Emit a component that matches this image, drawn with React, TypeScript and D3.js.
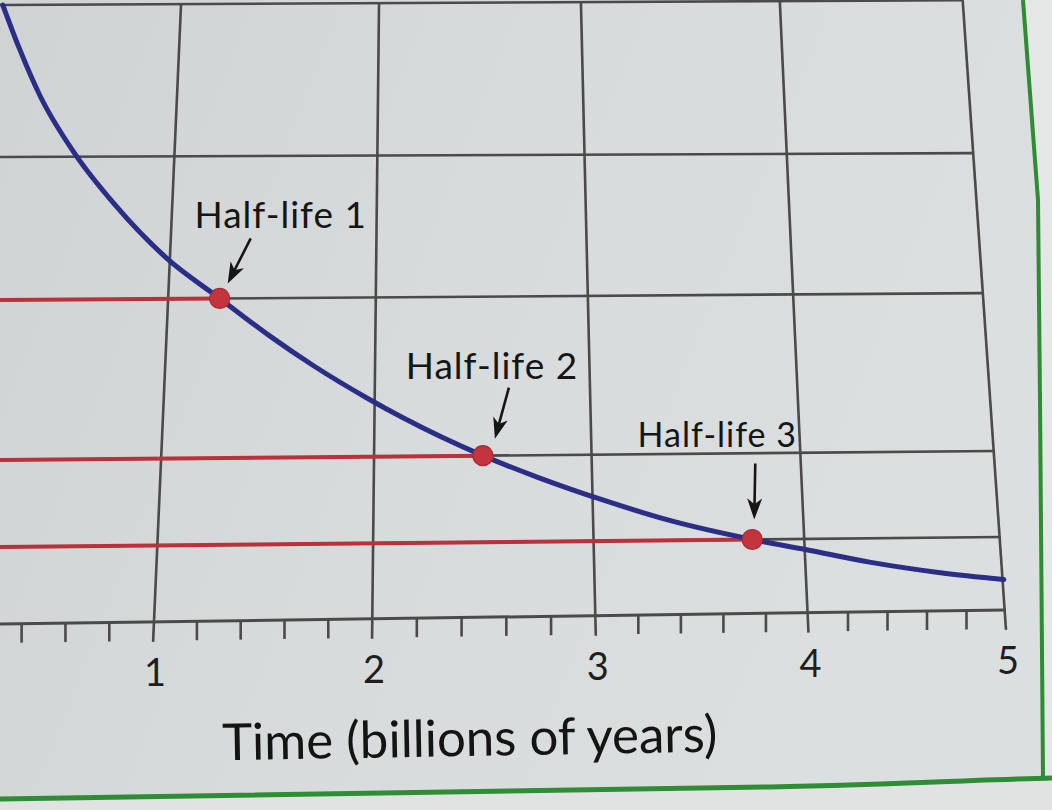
import React from "react";
import * as d3 from "d3";

// ---- data ----
const timeTicks = [1, 2, 3, 4, 5];
const minorTicks = [0.4, 0.6, 0.8, 1.2, 1.4, 1.6, 1.8, 2.2, 2.4, 2.6, 2.8, 3.2, 3.4, 3.6, 3.8, 4.2, 4.4, 4.6, 4.8];
const gridLevels = [0, 12.5, 25, 50, 75, 100];
const curveTime = [0.1, 0.2, 0.32, 0.51, 0.72, 0.99, 1.25, 1.49, 1.71, 1.97, 2.13, 2.5, 2.75, 3.05, 3.37, 3.75, 4.0, 4.33, 4.68, 5.0];
const curvePct = [100, 92.8, 85, 75.5, 66.6, 57, 50, 44.2, 39.3, 34.1, 31.1, 25, 21.8, 18.4, 15.3, 12.5, 10.7, 8.4, 6.5, 5.2];
const halfLifeTime = [1.25, 2.5, 3.75];
const halfLifePct = [50, 25, 12.5];
const halfLifeLabels = ["Half-life 1", "Half-life 2", "Half-life 3"];
const xTitle = "Time (billions of years)";

// ---- layout (photo perspective) ----
const W = 1052;
const H = 810;
const xBottom = d3.scaleLinear().domain([1, 2, 3, 4, 5]).range([153, 372, 596, 809, 1007]);
const xTop = d3.scaleLinear().domain([1, 2, 3, 4, 5]).range([181, 379, 581, 780, 963]);
const yLeft = d3.scaleLinear().domain([0, 12.5, 25, 50, 75, 100]).range([624, 547, 460, 300, 157, 5]);
const yRight = d3.scaleLinear().domain([0, 12.5, 25, 50, 75, 100]).range([610, 537, 451, 293, 153, 0]);

function project(t: number, p: number): [number, number] {
  let px = xBottom(t);
  let py = yLeft(p);
  for (let i = 0; i < 3; i++) {
    py = yLeft(p) + (yRight(p) - yLeft(p)) * (px / 1000);
    const f = (624 - py) / 619;
    px = xBottom(t) + (xTop(t) - xBottom(t)) * f;
  }
  return [px, py];
}

const annotations = [
  { lx: 61, ly: -70, size: 37, ax0: 31, ay0: -60, ax1: 8, ay1: -15 },
  { lx: 9, ly: -77, size: 37, ax0: 26, ay0: -68, ax1: 12, ay1: -17 },
  { lx: -35, ly: -92, size: 34, ax0: 3, ay0: -76, ax1: 2, ay1: -20 },
];

const GRID = "#4a4a4a";
const RED = "#bb313b";
const BLUE = "#2a2e86";

function arrowPath(x0: number, y0: number, x1: number, y1: number) {
  const dx = x1 - x0;
  const dy = y1 - y0;
  const len = Math.hypot(dx, dy);
  const ux = dx / len;
  const uy = dy / len;
  const nx = -uy;
  const ny = ux;
  const L = 21;
  const Wd = 7.5;
  const bx = x1 - ux * L;
  const by = y1 - uy * L;
  const notchx = x1 - ux * L * 0.72;
  const notchy = y1 - uy * L * 0.72;
  return {
    shaft: `M${x0},${y0}L${notchx},${notchy}`,
    head: `M${x1},${y1}L${bx + nx * Wd},${by + ny * Wd}L${notchx},${notchy}L${bx - nx * Wd},${by - ny * Wd}Z`,
  };
}

export default function App() {
  const curvePts = curveTime.map((t, i) => project(t, curvePct[i]));
  const line = d3.line<[number, number]>().x((d) => d[0]).y((d) => d[1]).curve(d3.curveBasis);
  // keep the curve passing through the half-life points: basis on densely-resampled monotone path
  const mono = d3.line<[number, number]>().x((d) => d[0]).y((d) => d[1]).curve(d3.curveMonotoneX);
  void line;

  return (
    <svg
      width={W}
      height={H}
      viewBox={`0 0 ${W} ${H}`}
      style={{ position: "absolute", left: 0, top: 0, display: "block" }}
    >
      <defs>
        <linearGradient id="paper" x1="0" y1="0" x2="1" y2="0.3">
          <stop offset="0" stopColor="#cfd3d3" />
          <stop offset="0.5" stopColor="#d7dbdb" />
          <stop offset="1" stopColor="#dcdfdf" />
        </linearGradient>
      </defs>
      <rect x={0} y={0} width={W} height={H} fill="url(#paper)" />
      {/* page edge areas */}
      <path d="M1023,0 L1038,200 L1040,400 L1043,778 L1052,778 L1052,0 Z" fill="#e4e7e6" />
      <path d="M0,799 C250,796 500,790 770,787 C900,784 1000,779 1052,778 L1052,810 L0,810 Z" fill="#e0e3e2" />
      <path d="M1023,0 L1038,200 L1040,400 L1043,778" fill="none" stroke="#2e8c35" strokeWidth={4} />
      <path d="M0,799 C250,796 500,790 770,787 C900,784 1000,779 1052,778" fill="none" stroke="#2f8d36" strokeWidth={5} />

      {/* horizontal grid lines */}
      {gridLevels.map((p) => {
        const a = project(0, p);
        const b = project(5, p);
        return <line key={"h" + p} x1={a[0]} y1={a[1]} x2={b[0]} y2={b[1]} stroke={GRID} strokeWidth={p === 0 ? 3 : 2.6} />;
      })}
      {/* vertical grid lines + major ticks */}
      {timeTicks.map((t) => {
        const a = project(t, 100);
        const b = project(t, 0);
        return <line key={"v" + t} x1={a[0]} y1={a[1]} x2={b[0]} y2={b[1] + 20} stroke={GRID} strokeWidth={2.6} />;
      })}
      {/* minor ticks */}
      {minorTicks.map((t) => {
        const b = project(t, 0);
        return <line key={"m" + t} x1={b[0]} y1={b[1]} x2={b[0]} y2={b[1] + 19} stroke={GRID} strokeWidth={2.6} />;
      })}
      {/* tick labels */}
      {timeTicks.map((t) => {
        const b = project(t, 0);
        return (
          <text key={"l" + t} x={b[0] + 2} y={b[1] + 64} textAnchor="middle" fontFamily="Lato, 'Open Sans', sans-serif" fontSize={38} fill="#1e1e1e">
            {t}
          </text>
        );
      })}
      <text
        x={470}
        y={756}
        textAnchor="middle"
        fontFamily="Lato, 'Open Sans', sans-serif"
        fontSize={51}
        fill="#141414"
        transform="rotate(-1, 470, 756)"
      >
        {xTitle}
      </text>

      {/* red half-life lines */}
      {halfLifeTime.map((t, i) => {
        const a = project(0, halfLifePct[i]);
        const b = project(t, halfLifePct[i]);
        return <line key={"r" + i} x1={a[0]} y1={a[1]} x2={b[0]} y2={b[1]} stroke={RED} strokeWidth={4} />;
      })}

      {/* decay curve */}
      <path d={mono(curvePts) || ""} fill="none" stroke={BLUE} strokeWidth={5} strokeLinecap="round" />

      {/* dots */}
      {halfLifeTime.map((t, i) => {
        const c = project(t, halfLifePct[i]);
        return <circle key={"d" + i} cx={c[0]} cy={c[1]} r={10} fill="#c4343d" stroke="#a82a33" strokeWidth={1.2} />;
      })}

      {/* labels + arrows */}
      {halfLifeTime.map((t, i) => {
        const c = project(t, halfLifePct[i]);
        const an = annotations[i];
        const ar = arrowPath(c[0] + an.ax0, c[1] + an.ay0, c[0] + an.ax1, c[1] + an.ay1);
        return (
          <g key={"a" + i}>
            <text
              x={c[0] + an.lx}
              y={c[1] + an.ly}
              textAnchor="middle"
              fontFamily="Lato, 'Open Sans', sans-serif"
              fontSize={an.size}
              letterSpacing={1}
              fill="#151515"
            >
              {halfLifeLabels[i]}
            </text>
            <path d={ar.shaft} stroke="#151515" strokeWidth={2.6} fill="none" />
            <path d={ar.head} fill="#151515" />
          </g>
        );
      })}
    </svg>
  );
}
